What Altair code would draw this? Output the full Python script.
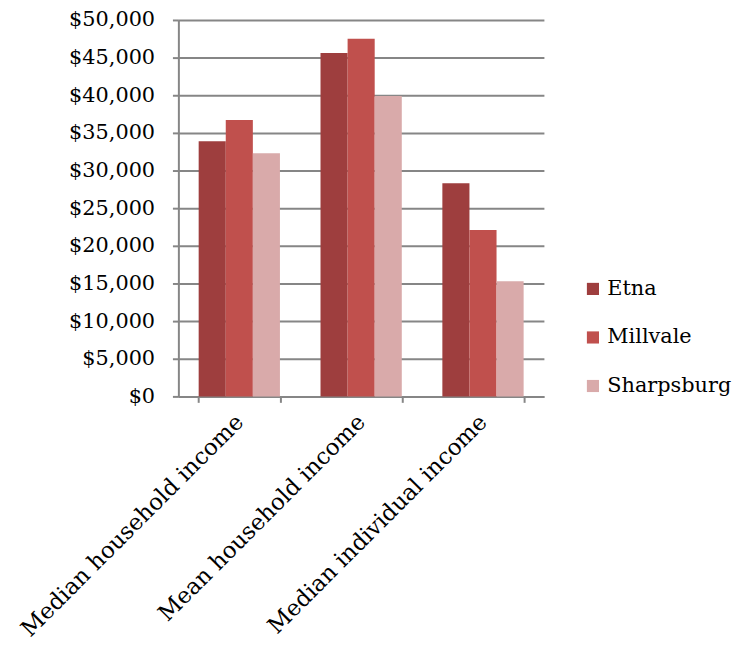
import altair as alt
import pandas as pd

categories = ["Median household income", "Mean household income", "Median individual income"]
towns = ["Etna", "Millvale", "Sharpsburg"]
etna = [33900, 45600, 28300]
millvale = [36700, 47500, 22100]
sharpsburg = [32300, 39900, 15300]
colors = ["#9E3E3E", "#C0504D", "#D9AAAA"]

rows = []
for i, c in enumerate(categories):
    for t, vals in zip(towns, [etna, millvale, sharpsburg]):
        rows.append({"category": c, "town": t, "value": vals[i]})
df = pd.DataFrame(rows)

FONT = "DejaVu Serif"

chart = alt.Chart(df).mark_bar().encode(
    x=alt.X("category:N", sort=categories, title=None,
            scale=alt.Scale(paddingInner=0.333, paddingOuter=0.1665),
            axis=alt.Axis(labelAngle=-45, tickBand="extent", labelFontSize=23,
                          labelFont=FONT, labelColor="black", domainColor="#868686",
                          domainWidth=2, tickColor="#868686", tickWidth=2, tickSize=6,
                          labelPadding=16, labelLimit=500, labelAlign="right",
                          labelBaseline="middle")),
    xOffset=alt.XOffset("town:N", sort=towns),
    y=alt.Y("value:Q", title=None,
            scale=alt.Scale(domain=[0, 50000]),
            axis=alt.Axis(values=list(range(0, 50001, 5000)), format="$,.0f",
                          labelFontSize=21, labelFont=FONT, labelColor="black",
                          gridColor="#868686", gridWidth=2, domainColor="#868686",
                          domainWidth=2, tickColor="#868686", tickWidth=2, tickSize=6,
                          labelPadding=18)),
    color=alt.Color("town:N", sort=towns,
                    scale=alt.Scale(domain=towns, range=colors),
                    legend=alt.Legend(title=None, orient="none", legendX=408, legendY=261,
                                      symbolType="square", symbolSize=150,
                                      symbolStrokeWidth=0,
                                      labelFontSize=21, labelFont=FONT,
                                      labelColor="black", rowPadding=27)),
).properties(
    width=369, height=380,
    autosize=alt.AutoSizeParams(type="none"),
    padding={"left": 172, "top": 9, "right": 204, "bottom": 261},
).configure_view(stroke=None).configure_axisX(grid=False)

chart.save("out.html", embed_options={"renderer": "svg", "actions": False})
